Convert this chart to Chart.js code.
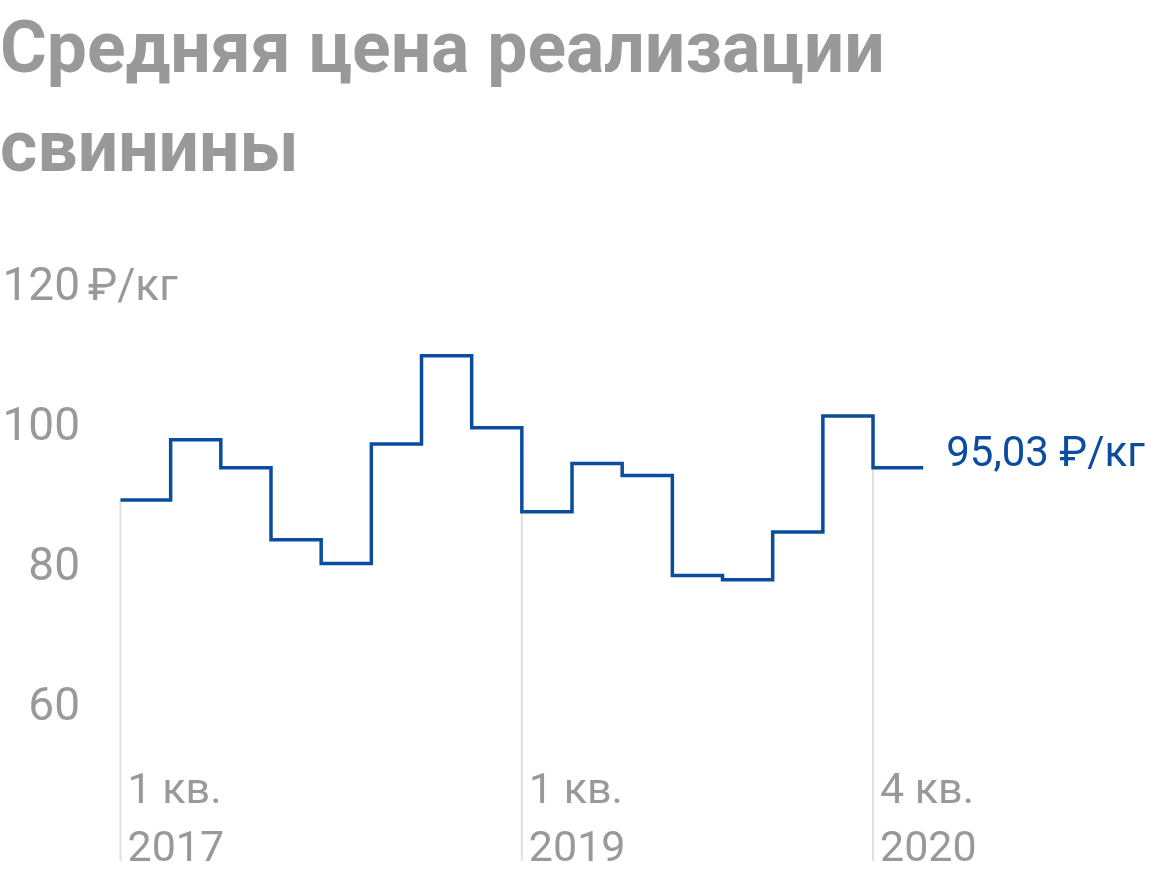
<!DOCTYPE html>
<html lang="ru">
<head>
<meta charset="utf-8">
<title>Средняя цена реализации свинины</title>
<script src="https://cdn.jsdelivr.net/npm/chart.js@4.4.1/dist/chart.umd.min.js"></script>
<style>
  html, body { margin: 0; padding: 0; background: #fff; }
  body { width: 1160px; height: 880px; position: relative; overflow: hidden; }
  h1 {
    position: absolute; left: 0; top: -2px; margin: 0;
    font: bold 71.5px/99px Roboto, sans-serif; color: #999;
  }
  #chart { position: absolute; left: 0; top: 0; }
</style>
</head>
<body>
<h1>Средняя цена реализации<br>свинины</h1>
<canvas id="chart" width="1160" height="880"></canvas>
<script>
// quarterly average pork price, rub/kg
const quarters = [
  '1 кв. 2017', '2 кв. 2017', '3 кв. 2017', '4 кв. 2017',
  '1 кв. 2018', '2 кв. 2018', '3 кв. 2018', '4 кв. 2018',
  '1 кв. 2019', '2 кв. 2019', '3 кв. 2019', '4 кв. 2019',
  '1 кв. 2020', '2 кв. 2020', '3 кв. 2020', '4 кв. 2020'
];
const prices = [89.8, 98.4, 94.4, 84.1, 80.7, 97.8, 110.4, 100.1,
                88.1, 95.0, 93.3, 79.0, 78.4, 85.2, 101.8, 94.4];
const yTicks = [60, 80, 100, 120];
const yUnit = '₽/кг';
const markedQuarters = [0, 8, 15];
const markedLabels = [['1 кв.', '2017'], ['1 кв.', '2019'], ['4 кв.', '2020']];
const lastLabel = '95,03 ₽/кг';

const BLUE = '#0a4c9e';
const GRAY = '#999999';
const DROP_TO = 38.2; // where the thin grey markers stop

// one extra point so the last quarter gets its own flat step
const stepPoints = prices.map((v, i) => ({ x: i, y: v }));
stepPoints.push({ x: prices.length, y: prices[prices.length - 1] });

const dropLines = markedQuarters.map(i => ({
  data: [{ x: i, y: prices[i] }, { x: i, y: DROP_TO }],
  borderColor: '#e0e0e0',
  borderWidth: 2,
  pointRadius: 0,
  clip: false
}));

const textPlugin = {
  id: 'textLabels',
  afterDatasetsDraw(chart) {
    const { ctx, chartArea } = chart;
    const x = chart.scales.x, y = chart.scales.y;
    ctx.save();
    ctx.textAlign = 'left';

    // quarter captions next to the grey markers
    ctx.font = '43px Roboto';
    ctx.fillStyle = GRAY;
    ctx.textBaseline = 'alphabetic';
    markedQuarters.forEach((q, k) => {
      const px = x.getPixelForValue(q) + 7;
      ctx.fillText(markedLabels[k][0], px, chartArea.bottom - 77);
      ctx.fillText(markedLabels[k][1], px, chartArea.bottom - 19);
    });

    // unit after the top tick
    ctx.font = '44px Roboto';
    ctx.textBaseline = 'middle';
    ctx.fillText(yUnit, y.right + 8, y.getPixelForValue(yTicks[yTicks.length - 1]));

    // value at the end of the line
    const n = prices.length;
    ctx.font = '42px Roboto';
    ctx.fillStyle = BLUE;
    ctx.textBaseline = 'alphabetic';
    ctx.fillText(lastLabel, x.getPixelForValue(n) + 23, y.getPixelForValue(prices[n - 1]) - 2);
    ctx.restore();
  }
};

new Chart(document.getElementById('chart'), {
  type: 'line',
  data: {
    datasets: [{
      label: 'Средняя цена',
      data: stepPoints,
      stepped: 'before',
      borderColor: BLUE,
      borderWidth: 3.5,
      borderJoinStyle: 'miter',
      pointRadius: 0,
      fill: false
    }, ...dropLines]
  },
  options: {
    responsive: false,
    animation: false,
    devicePixelRatio: 1,
    layout: { padding: { top: 250, left: 0, right: 0, bottom: 0 } },
    plugins: { legend: { display: false }, tooltip: { enabled: false } },
    scales: {
      x: { type: 'linear', min: -0.807, max: 20.72, display: false },
      y: {
        min: 35.5,
        max: 125.5,
        afterBuildTicks: s => { s.ticks = yTicks.map(v => ({ value: v })); },
        afterFit: s => { s.width = 80; s.paddingTop = 0; s.paddingBottom = 0; },
        grid: { display: false, drawTicks: false },
        border: { display: false },
        ticks: { padding: 0, color: GRAY, font: { family: 'Roboto', size: 46 } }
      }
    }
  },
  plugins: [textPlugin]
});
</script>
</body>
</html>
